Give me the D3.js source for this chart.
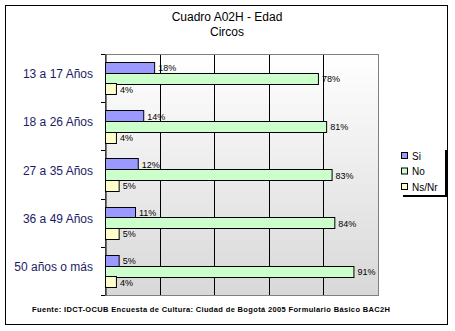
<!DOCTYPE html>
<html><head><meta charset="utf-8">
<script src="https://cdn.jsdelivr.net/npm/d3@7"></script>
<style>body{margin:0;background:#fff}svg{display:block;font-family:"Liberation Sans",Arial,sans-serif}</style>
</head><body>
<script>
const categories = ["13 a 17 Años","18 a 26 Años","27 a 35 Años","36 a 49 Años","50 años o más"];
const seriesNames = ["Si","No","Ns/Nr"];
const siValues = [18,14,12,11,5];
const noValues = [78,81,83,84,91];
const nsValues = [4,4,5,5,4];
const colors = ["#9999FF","#CCFFCC","#FFFFCC"];
const xTicks = [0,20,40,60,80,100];
const title1 = "Cuadro A02H - Edad";
const title2 = "Circos";
const footer = "Fuente: IDCT-OCUB Encuesta de Cultura: Ciudad de Bogotá 2005 Formulario Básico BAC2H";

const W=455,H=331;
const svg=d3.select("body").append("svg").attr("width",W).attr("height",H);
svg.append("rect").attr("x",5.5).attr("y",5.5).attr("width",442).attr("height",319).attr("fill","#fff").attr("stroke","#000");

const defs=svg.append("defs");
const g=defs.append("linearGradient").attr("id","bg").attr("x1",0).attr("y1",0).attr("x2",0).attr("y2",1);
g.append("stop").attr("offset","0%").attr("stop-color","#ffffff");
g.append("stop").attr("offset","100%").attr("stop-color","#d8d8d8");

const L=105,R=378,T=54,B=295;
const x=d3.scaleLinear().domain([0,100]).range([L,R]);
const y0=d3.scaleBand().domain(categories).range([T,B]);
const step=y0.step();
const y1=d3.scaleBand().domain(seriesNames).range([8,step-8]);

svg.append("rect").attr("x",L).attr("y",T).attr("width",R-L).attr("height",B-T).attr("fill","url(#bg)");
// gridlines
svg.append("g").selectAll("line").data(xTicks.filter(d=>d>0&&d<100)).join("line")
  .attr("x1",d=>Math.round(x(d))+0.5).attr("x2",d=>Math.round(x(d))+0.5).attr("y1",T).attr("y2",B)
  .attr("stroke","#000").attr("stroke-width",1);
// plot border
svg.append("rect").attr("x",L+0.5).attr("y",T+0.5).attr("width",R-L).attr("height",B-T)
  .attr("fill","none").attr("stroke","#808080");
// left axis
const yAxis=d3.axisLeft(y0).tickSize(0).tickFormat("");
const ax=svg.append("g").attr("transform",`translate(${L+0.5},0)`).call(yAxis);
ax.select(".domain").attr("stroke","#000");
ax.selectAll(".tick").remove();
svg.append("g").selectAll("line").data(d3.range(categories.length+1)).join("line")
  .attr("x1",L-4).attr("x2",L).attr("y1",i=>Math.round(T+i*step)+0.5).attr("y2",i=>Math.round(T+i*step)+0.5)
  .attr("stroke","#000");

// category labels
svg.append("g").selectAll("text").data(categories).join("text")
  .attr("x",93).attr("y",d=>y0(d)+step/2-4).attr("text-anchor","end").attr("dominant-baseline","central")
  .attr("font-size",12).attr("fill","#1c1c66").text(d=>d);

const seriesVals=[siValues,noValues,nsValues];
const data=[];
categories.forEach((c,i)=>seriesNames.forEach((s,j)=>data.push({c,s,j,v:seriesVals[j][i]})));
svg.append("g").selectAll("rect").data(data).join("rect")
  .attr("x",L+0.5).attr("y",d=>Math.round(y0(d.c)+y1(d.s))+0.5)
  .attr("width",d=>x(d.v)-L).attr("height",Math.round(y1.bandwidth()))
  .attr("fill",d=>colors[d.j]).attr("stroke","#000");
svg.append("g").selectAll("text").data(data).join("text")
  .attr("x",d=>x(d.v)+4).attr("y",d=>y0(d.c)+y1(d.s)+y1.bandwidth()/2+1)
  .attr("dominant-baseline","central").attr("font-size",9).attr("fill","#000")
  .text(d=>d.v+"%");

// titles
svg.append("text").attr("x",227).attr("y",21).attr("text-anchor","middle").attr("font-size",12).text(title1);
svg.append("text").attr("x",227).attr("y",36).attr("text-anchor","middle").attr("font-size",12).text(title2);

// legend
svg.append("rect").attr("x",445).attr("y",150).attr("width",2).attr("height",46).attr("fill","#000");
svg.append("rect").attr("x",403).attr("y",195).attr("width",44).attr("height",2).attr("fill","#000");
const lg=svg.append("g").selectAll("g").data(seriesNames).join("g")
  .attr("transform",(d,i)=>`translate(401,${156+i*15.5})`);
lg.append("rect").attr("x",0.5).attr("y",-3.5).attr("width",6).attr("height",6)
  .attr("fill",(d,i)=>colors[i]).attr("stroke","#000");
lg.append("text").attr("x",11).attr("y",0).attr("dominant-baseline","central").attr("font-size",10).text(d=>d);

// footer
svg.append("text").attr("x",211).attr("y",312).attr("text-anchor","middle").attr("font-size",7.5)
  .attr("font-weight","bold").attr("textLength",358).attr("lengthAdjust","spacing").text(footer);
</script>
</body></html>
